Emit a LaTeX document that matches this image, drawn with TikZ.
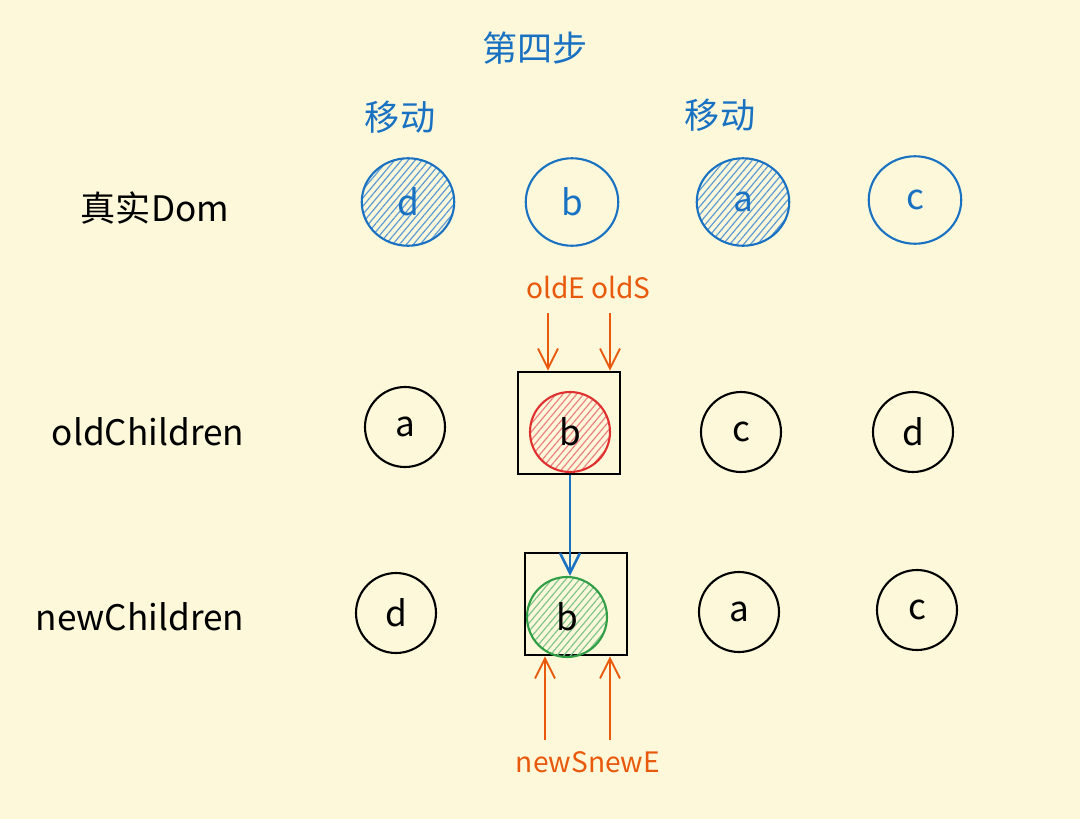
\documentclass[tikz,border=0pt]{standalone}
\usepackage{fontspec}
\setmainfont{Noto Sans CJK SC}
\usetikzlibrary{positioning}
\usetikzlibrary{arrows.meta}
\usetikzlibrary{patterns.meta}
\usetikzlibrary{shapes.geometric}
\definecolor{paper}{HTML}{FEF8DB}
\definecolor{eblue}{HTML}{1971C2}
\definecolor{ered}{HTML}{E03131}
\definecolor{egreen}{HTML}{2F9E44}
\definecolor{eorange}{HTML}{E8590C}
\tikzset{
    dom/.style = {draw, eblue, ellipse, line width=1.2pt, minimum width=1.85cm, minimum height=1.75cm, text=eblue, font=\fontsize{20}{20}\selectfont},
    child/.style = {draw, black, circle, line width=1.2pt, minimum size=1.6cm, inner sep=0, font=\fontsize{20}{20}\selectfont},
    hatch/.style = {pattern={Lines[angle=50,distance=3pt,line width=0.7pt]}, pattern color=#1},
    rowlabel/.style = {font=\fontsize{20}{20}\selectfont},
    ptr/.style = {eorange, line width=1.1pt, -{Straight Barb[length=4mm,width=4mm]}},
    ptrlabel/.style = {text=eorange, font=\fontsize{16}{16}\selectfont},
    pick/.style = {draw, line width=1.2pt, minimum size=2.05cm},
}

\begin{document}
\begin{tikzpicture}[x=0.02cm, y=-0.02cm]
    \fill[paper] (0,0) rectangle (1080,819);
    \useasboundingbox (0,0) rectangle (1080,819);

    % titles
    \node[text=eblue, font=\fontsize{20}{20}\selectfont] (step) at (535,48) {第四步};
    \node[text=eblue, font=\fontsize{20}{20}\selectfont] (move1) at (400,117) {移动};
    \node[text=eblue, font=\fontsize{20}{20}\selectfont] (move2) at (720,115) {移动};

    % row labels
    \node[rowlabel] (real) at (155,208) {真实Dom};
    \node[rowlabel] (oldrow) at (148,432) {oldChildren};
    \node[rowlabel] (newrow) at (140,617) {newChildren};

    % real dom
    \node[dom, fill=eblue!20, hatch=eblue!70] (dd) at (408,202) {d};
    \node[dom] (db) at (572,202) {b};
    \node[dom, fill=eblue!20, hatch=eblue!70] (da) at (743,202) {a};
    \node[dom] (dc) at (915,200) {c};

    % old children
    \node[child] (oa) at (405,427) {a};
    \node[pick] (oldbox) at (569,423) {};
    \node[child, draw=ered, fill=ered!15, hatch=ered!60] (ob) at (570,432) {b};
    \node[child] (oc) at (741,432) {c};
    \node[child] (od) at (913,432) {d};

    % new children
    \node[child] (nd) at (396,613) {d};
    \node[pick] (newbox) at (576,604) {};
    \node[child, draw=egreen, fill=egreen!15, hatch=egreen!60] (nb) at (567,617) {b};
    \node[child] (na) at (739,612) {a};
    \node[child] (nc) at (917,610) {c};

    % pointers
    \node[ptrlabel] (olde) at (556,287) {oldE};
    \node[ptrlabel] (olds) at (621,287) {oldS};
    \coordinate (oe) at (548,313);
    \coordinate (os) at (610,313);
    \draw[ptr] (oe) -- (oe |- oldbox.north);
    \draw[ptr] (os) -- (os |- oldbox.north);

    \node[ptrlabel] (newse) at (588,762) {newSnewE};
    \coordinate (ns) at (545,740);
    \coordinate (ne) at (610,740);
    \draw[ptr] (ns) -- (ns |- newbox.south);
    \draw[ptr] (ne) -- (ne |- newbox.south);

    \draw[eblue, line width=1.5pt, -{Straight Barb[length=4mm,width=4mm]}] (oldbox.south -| ob) -- (nb.north -| ob);
\end{tikzpicture}
\end{document}
